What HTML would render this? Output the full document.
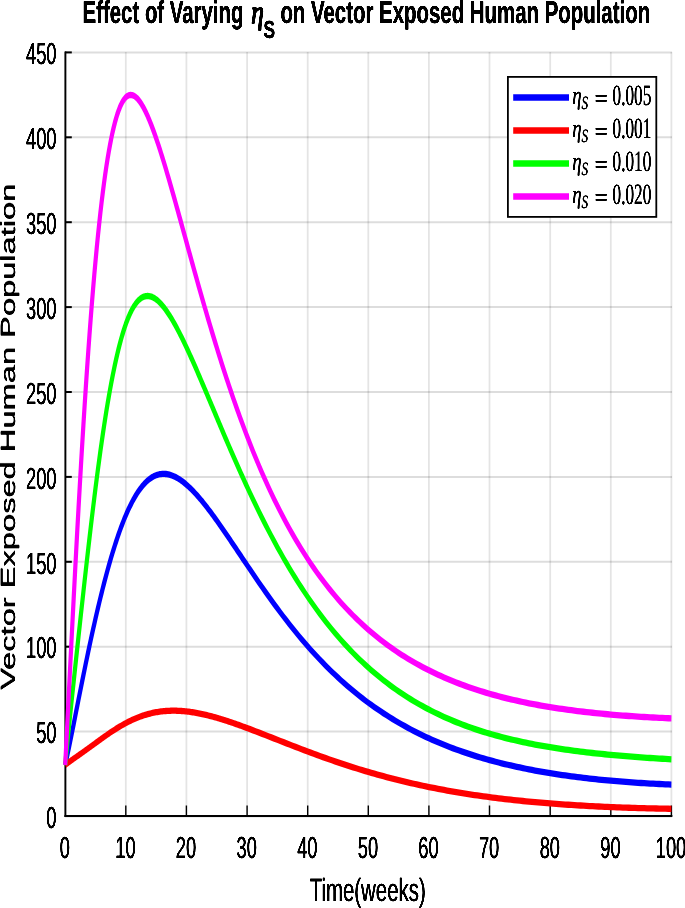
<!DOCTYPE html>
<html><head><meta charset="utf-8"><title>Effect of Varying eta_S on Vector Exposed Human Population</title>
<style>
html,body{margin:0;padding:0;background:#fff;}
body{width:685px;height:908px;overflow:hidden;position:relative;}
svg{position:absolute;left:0;top:0;display:block;}
text{font-family:"Liberation Sans",Arial,Helvetica,sans-serif;fill:#000;text-rendering:geometricPrecision;}
.serif{font-family:"Liberation Serif","DejaVu Serif",serif;}
</style></head><body>
<svg width="685" height="908" viewBox="0 0 685 908">
<defs>
<filter id="tk" x="-5%" y="-20%" width="110%" height="140%" color-interpolation-filters="sRGB"><feGaussianBlur stdDeviation="0.75 0.25"/><feComponentTransfer><feFuncA type="linear" slope="2.6" intercept="-0.12"/></feComponentTransfer></filter>
<filter id="tkv" x="-20%" y="-5%" width="140%" height="110%" color-interpolation-filters="sRGB"><feGaussianBlur stdDeviation="0.5 0.45"/><feComponentTransfer><feFuncA type="linear" slope="2.0" intercept="-0.08"/></feComponentTransfer></filter>
<filter id="tl" x="-5%" y="-20%" width="110%" height="140%" color-interpolation-filters="sRGB"><feGaussianBlur stdDeviation="0.55 0.3"/><feComponentTransfer><feFuncA type="linear" slope="2.2" intercept="-0.08"/></feComponentTransfer></filter>
</defs>
<rect x="0" y="0" width="685" height="908" fill="#fff"/>
<g stroke="#000" fill="none"><line x1="65.2" y1="52" x2="65.2" y2="816" stroke-width="1.8" stroke-opacity="0.105"/><line x1="125.8" y1="52" x2="125.8" y2="816" stroke-width="1.8" stroke-opacity="0.105"/><line x1="186.4" y1="52" x2="186.4" y2="816" stroke-width="1.8" stroke-opacity="0.105"/><line x1="247.1" y1="52" x2="247.1" y2="816" stroke-width="1.8" stroke-opacity="0.105"/><line x1="307.7" y1="52" x2="307.7" y2="816" stroke-width="1.8" stroke-opacity="0.105"/><line x1="368.3" y1="52" x2="368.3" y2="816" stroke-width="1.8" stroke-opacity="0.105"/><line x1="428.9" y1="52" x2="428.9" y2="816" stroke-width="1.8" stroke-opacity="0.105"/><line x1="489.5" y1="52" x2="489.5" y2="816" stroke-width="1.8" stroke-opacity="0.105"/><line x1="550.2" y1="52" x2="550.2" y2="816" stroke-width="1.8" stroke-opacity="0.105"/><line x1="610.8" y1="52" x2="610.8" y2="816" stroke-width="1.8" stroke-opacity="0.105"/><line x1="671.4" y1="52" x2="671.4" y2="816" stroke-width="1.8" stroke-opacity="0.105"/><line x1="65" y1="816.5" x2="672" y2="816.5" stroke-width="2" stroke-opacity="0.135"/><line x1="65" y1="731.6" x2="672" y2="731.6" stroke-width="2" stroke-opacity="0.135"/><line x1="65" y1="646.7" x2="672" y2="646.7" stroke-width="2" stroke-opacity="0.135"/><line x1="65" y1="561.8" x2="672" y2="561.8" stroke-width="2" stroke-opacity="0.135"/><line x1="65" y1="476.9" x2="672" y2="476.9" stroke-width="2" stroke-opacity="0.135"/><line x1="65" y1="392.0" x2="672" y2="392.0" stroke-width="2" stroke-opacity="0.135"/><line x1="65" y1="307.1" x2="672" y2="307.1" stroke-width="2" stroke-opacity="0.135"/><line x1="65" y1="222.2" x2="672" y2="222.2" stroke-width="2" stroke-opacity="0.135"/><line x1="65" y1="137.3" x2="672" y2="137.3" stroke-width="2" stroke-opacity="0.135"/><line x1="65" y1="52.4" x2="672" y2="52.4" stroke-width="2" stroke-opacity="0.135"/></g>
<g stroke="#000" fill="none"><line x1="65.4" y1="51.5" x2="65.4" y2="817" stroke-width="1.9"/><line x1="64.4" y1="816" x2="672.4" y2="816" stroke-width="2"/><line x1="125.8" y1="816" x2="125.8" y2="805.5" stroke-width="1.4"/><line x1="186.4" y1="816" x2="186.4" y2="805.5" stroke-width="1.4"/><line x1="247.1" y1="816" x2="247.1" y2="805.5" stroke-width="1.4"/><line x1="307.7" y1="816" x2="307.7" y2="805.5" stroke-width="1.4"/><line x1="368.3" y1="816" x2="368.3" y2="805.5" stroke-width="1.4"/><line x1="428.9" y1="816" x2="428.9" y2="805.5" stroke-width="1.4"/><line x1="489.5" y1="816" x2="489.5" y2="805.5" stroke-width="1.4"/><line x1="550.2" y1="816" x2="550.2" y2="805.5" stroke-width="1.4"/><line x1="610.8" y1="816" x2="610.8" y2="805.5" stroke-width="1.4"/><line x1="671.4" y1="816" x2="671.4" y2="805.5" stroke-width="1.4"/><line x1="65" y1="731.6" x2="71.8" y2="731.6" stroke-width="2"/><line x1="65" y1="646.7" x2="71.8" y2="646.7" stroke-width="2"/><line x1="65" y1="561.8" x2="71.8" y2="561.8" stroke-width="2"/><line x1="65" y1="476.9" x2="71.8" y2="476.9" stroke-width="2"/><line x1="65" y1="392.0" x2="71.8" y2="392.0" stroke-width="2"/><line x1="65" y1="307.1" x2="71.8" y2="307.1" stroke-width="2"/><line x1="65" y1="222.2" x2="71.8" y2="222.2" stroke-width="2"/><line x1="65" y1="137.3" x2="71.8" y2="137.3" stroke-width="2"/><line x1="65" y1="52.4" x2="71.8" y2="52.4" stroke-width="2"/></g>
<g transform="scale(1,1.5)" fill="none" stroke-width="4.2" stroke-linejoin="round">
<path stroke="#0000ff" d="M65.20,510.04 L66.41,506.36 L67.62,502.58 L68.84,498.70 L70.05,494.76 L71.26,490.76 L72.47,486.72 L73.69,482.66 L74.90,478.57 L76.11,474.48 L77.32,470.39 L78.54,466.31 L79.75,462.24 L80.96,458.19 L82.17,454.17 L83.39,450.17 L84.60,446.20 L85.81,442.27 L87.02,438.38 L88.24,434.52 L89.45,430.71 L90.66,426.94 L91.87,423.22 L93.09,419.56 L94.30,415.94 L95.51,412.37 L96.72,408.86 L97.93,405.40 L99.15,402.00 L100.36,398.66 L101.57,395.38 L102.78,392.16 L104.00,389.00 L105.21,385.90 L106.42,382.87 L107.63,379.90 L108.85,377.00 L110.06,374.16 L111.27,371.39 L112.48,368.69 L113.70,366.06 L114.91,363.49 L116.12,361.00 L117.33,358.57 L118.55,356.21 L119.76,353.93 L120.97,351.71 L122.18,349.56 L123.40,347.49 L124.61,345.48 L125.82,343.55 L127.03,341.68 L128.24,339.89 L129.46,338.16 L130.67,336.51 L131.88,334.92 L133.09,333.41 L134.31,331.96 L135.52,330.58 L136.73,329.26 L137.94,328.02 L139.16,326.84 L140.37,325.72 L141.58,324.67 L142.79,323.69 L144.01,322.76 L145.22,321.90 L146.43,321.11 L147.64,320.37 L148.86,319.69 L150.07,319.08 L151.28,318.52 L152.49,318.02 L153.71,317.57 L154.92,317.18 L156.13,316.85 L157.34,316.56 L158.55,316.33 L159.77,316.16 L160.98,316.03 L162.19,315.95 L163.40,315.92 L164.62,315.94 L165.83,316.00 L167.04,316.11 L168.25,316.26 L169.47,316.46 L170.68,316.69 L171.89,316.97 L173.10,317.29 L174.32,317.64 L175.53,318.04 L176.74,318.47 L177.95,318.93 L179.17,319.43 L180.38,319.97 L181.59,320.53 L182.80,321.13 L184.02,321.76 L185.23,322.42 L186.44,323.11 L187.65,323.82 L188.86,324.56 L190.08,325.33 L191.29,326.12 L192.50,326.94 L193.71,327.78 L194.93,328.64 L196.14,329.52 L197.35,330.42 L198.56,331.35 L199.78,332.29 L200.99,333.25 L202.20,334.22 L203.41,335.22 L204.63,336.23 L205.84,337.25 L207.05,338.29 L208.26,339.34 L209.48,340.41 L210.69,341.48 L211.90,342.57 L213.11,343.67 L214.33,344.78 L215.54,345.90 L216.75,347.03 L217.96,348.17 L219.17,349.32 L220.39,350.47 L221.60,351.63 L222.81,352.80 L224.02,353.97 L225.24,355.15 L226.45,356.33 L227.66,357.51 L228.87,358.70 L230.09,359.90 L231.30,361.09 L232.51,362.29 L233.72,363.50 L234.94,364.70 L236.15,365.90 L237.36,367.11 L238.57,368.31 L239.79,369.52 L241.00,370.73 L242.21,371.93 L243.42,373.14 L244.64,374.34 L245.85,375.55 L247.06,376.75 L250.09,379.74 L253.12,382.72 L256.15,385.68 L259.18,388.62 L262.22,391.53 L265.25,394.42 L268.28,397.27 L271.31,400.09 L274.34,402.87 L277.37,405.62 L280.40,408.33 L283.43,411.00 L286.46,413.63 L289.49,416.21 L292.53,418.76 L295.56,421.26 L298.59,423.72 L301.62,426.13 L304.65,428.51 L307.68,430.83 L310.71,433.11 L313.74,435.35 L316.77,437.55 L319.80,439.70 L322.83,441.80 L325.87,443.87 L328.90,445.89 L331.93,447.86 L334.96,449.80 L337.99,451.69 L341.02,453.55 L344.05,455.36 L347.08,457.13 L350.11,458.86 L353.14,460.56 L356.18,462.21 L359.21,463.83 L362.24,465.41 L365.27,466.96 L368.30,468.47 L371.33,469.94 L374.36,471.38 L377.39,472.79 L380.42,474.16 L383.45,475.50 L386.49,476.81 L389.52,478.09 L392.55,479.34 L395.58,480.56 L398.61,481.75 L401.64,482.92 L404.67,484.05 L407.70,485.16 L410.73,486.24 L413.76,487.29 L416.80,488.32 L419.83,489.33 L422.86,490.31 L425.89,491.26 L428.92,492.20 L431.95,493.11 L434.98,493.99 L438.01,494.86 L441.04,495.71 L444.07,496.53 L447.11,497.34 L450.14,498.12 L453.17,498.89 L456.20,499.64 L459.23,500.36 L462.26,501.07 L465.29,501.77 L468.32,502.44 L471.35,503.10 L474.38,503.75 L477.42,504.37 L480.45,504.98 L483.48,505.58 L486.51,506.16 L489.54,506.73 L492.57,507.28 L495.60,507.82 L498.63,508.34 L501.66,508.85 L504.69,509.35 L507.73,509.84 L510.76,510.31 L513.79,510.77 L516.82,511.22 L519.85,511.66 L522.88,512.09 L525.91,512.50 L528.94,512.90 L531.97,513.30 L535.00,513.68 L538.04,514.05 L541.07,514.42 L544.10,514.77 L547.13,515.11 L550.16,515.45 L553.19,515.77 L556.22,516.09 L559.25,516.40 L562.28,516.70 L565.32,516.99 L568.35,517.27 L571.38,517.54 L574.41,517.81 L577.44,518.07 L580.47,518.32 L583.50,518.56 L586.53,518.80 L589.56,519.03 L592.59,519.25 L595.63,519.47 L598.66,519.68 L601.69,519.88 L604.72,520.08 L607.75,520.27 L610.78,520.45 L613.81,520.63 L616.84,520.80 L619.87,520.97 L622.90,521.13 L625.94,521.29 L628.97,521.44 L632.00,521.58 L635.03,521.72 L638.06,521.86 L641.09,521.99 L644.12,522.11 L647.15,522.23 L650.18,522.35 L653.21,522.46 L656.25,522.56 L659.28,522.67 L662.31,522.76 L665.34,522.86 L668.37,522.95 L671.40,523.03"/>
<path stroke="#ff0000" d="M65.20,510.04 L66.41,509.39 L67.62,508.76 L68.84,508.15 L70.05,507.55 L71.26,506.96 L72.47,506.39 L73.69,505.81 L74.90,505.24 L76.11,504.67 L77.32,504.10 L78.54,503.54 L79.75,502.97 L80.96,502.40 L82.17,501.82 L83.39,501.25 L84.60,500.67 L85.81,500.09 L87.02,499.51 L88.24,498.93 L89.45,498.34 L90.66,497.75 L91.87,497.16 L93.09,496.57 L94.30,495.98 L95.51,495.39 L96.72,494.80 L97.93,494.21 L99.15,493.62 L100.36,493.04 L101.57,492.46 L102.78,491.88 L104.00,491.30 L105.21,490.73 L106.42,490.16 L107.63,489.60 L108.85,489.04 L110.06,488.49 L111.27,487.95 L112.48,487.41 L113.70,486.88 L114.91,486.36 L116.12,485.85 L117.33,485.34 L118.55,484.85 L119.76,484.36 L120.97,483.88 L122.18,483.42 L123.40,482.96 L124.61,482.51 L125.82,482.07 L127.03,481.65 L128.24,481.23 L129.46,480.83 L130.67,480.43 L131.88,480.05 L133.09,479.68 L134.31,479.32 L135.52,478.97 L136.73,478.63 L137.94,478.31 L139.16,477.99 L140.37,477.69 L141.58,477.40 L142.79,477.12 L144.01,476.85 L145.22,476.60 L146.43,476.36 L147.64,476.12 L148.86,475.90 L150.07,475.69 L151.28,475.50 L152.49,475.31 L153.71,475.14 L154.92,474.97 L156.13,474.82 L157.34,474.68 L158.55,474.55 L159.77,474.43 L160.98,474.32 L162.19,474.22 L163.40,474.14 L164.62,474.06 L165.83,473.99 L167.04,473.94 L168.25,473.89 L169.47,473.85 L170.68,473.82 L171.89,473.81 L173.10,473.80 L174.32,473.80 L175.53,473.81 L176.74,473.83 L177.95,473.86 L179.17,473.89 L180.38,473.94 L181.59,473.99 L182.80,474.06 L184.02,474.13 L185.23,474.20 L186.44,474.29 L187.65,474.38 L188.86,474.48 L190.08,474.59 L191.29,474.71 L192.50,474.83 L193.71,474.96 L194.93,475.09 L196.14,475.24 L197.35,475.39 L198.56,475.54 L199.78,475.70 L200.99,475.87 L202.20,476.04 L203.41,476.22 L204.63,476.41 L205.84,476.60 L207.05,476.79 L208.26,476.99 L209.48,477.20 L210.69,477.41 L211.90,477.62 L213.11,477.84 L214.33,478.06 L215.54,478.29 L216.75,478.52 L217.96,478.76 L219.17,479.00 L220.39,479.24 L221.60,479.49 L222.81,479.74 L224.02,480.00 L225.24,480.26 L226.45,480.52 L227.66,480.78 L228.87,481.05 L230.09,481.32 L231.30,481.59 L232.51,481.87 L233.72,482.15 L234.94,482.43 L236.15,482.71 L237.36,483.00 L238.57,483.29 L239.79,483.58 L241.00,483.87 L242.21,484.16 L243.42,484.46 L244.64,484.76 L245.85,485.06 L247.06,485.36 L250.09,486.12 L253.12,486.88 L256.15,487.66 L259.18,488.44 L262.22,489.22 L265.25,490.01 L268.28,490.80 L271.31,491.60 L274.34,492.39 L277.37,493.19 L280.40,493.98 L283.43,494.77 L286.46,495.56 L289.49,496.35 L292.53,497.14 L295.56,497.92 L298.59,498.70 L301.62,499.47 L304.65,500.24 L307.68,501.00 L310.71,501.75 L313.74,502.50 L316.77,503.25 L319.80,503.98 L322.83,504.71 L325.87,505.43 L328.90,506.14 L331.93,506.85 L334.96,507.55 L337.99,508.23 L341.02,508.91 L344.05,509.59 L347.08,510.25 L350.11,510.90 L353.14,511.55 L356.18,512.18 L359.21,512.81 L362.24,513.43 L365.27,514.03 L368.30,514.63 L371.33,515.22 L374.36,515.80 L377.39,516.37 L380.42,516.93 L383.45,517.48 L386.49,518.03 L389.52,518.56 L392.55,519.08 L395.58,519.60 L398.61,520.11 L401.64,520.60 L404.67,521.09 L407.70,521.57 L410.73,522.04 L413.76,522.50 L416.80,522.95 L419.83,523.40 L422.86,523.83 L425.89,524.26 L428.92,524.68 L431.95,525.09 L434.98,525.49 L438.01,525.88 L441.04,526.27 L444.07,526.65 L447.11,527.01 L450.14,527.38 L453.17,527.73 L456.20,528.08 L459.23,528.42 L462.26,528.75 L465.29,529.07 L468.32,529.39 L471.35,529.70 L474.38,530.01 L477.42,530.30 L480.45,530.59 L483.48,530.87 L486.51,531.15 L489.54,531.42 L492.57,531.69 L495.60,531.94 L498.63,532.19 L501.66,532.44 L504.69,532.68 L507.73,532.91 L510.76,533.14 L513.79,533.36 L516.82,533.58 L519.85,533.79 L522.88,534.00 L525.91,534.20 L528.94,534.39 L531.97,534.58 L535.00,534.77 L538.04,534.95 L541.07,535.13 L544.10,535.30 L547.13,535.46 L550.16,535.63 L553.19,535.78 L556.22,535.94 L559.25,536.08 L562.28,536.23 L565.32,536.37 L568.35,536.51 L571.38,536.64 L574.41,536.77 L577.44,536.89 L580.47,537.01 L583.50,537.13 L586.53,537.24 L589.56,537.35 L592.59,537.46 L595.63,537.56 L598.66,537.66 L601.69,537.76 L604.72,537.85 L607.75,537.94 L610.78,538.03 L613.81,538.11 L616.84,538.19 L619.87,538.27 L622.90,538.35 L625.94,538.42 L628.97,538.49 L632.00,538.56 L635.03,538.62 L638.06,538.69 L641.09,538.75 L644.12,538.80 L647.15,538.86 L650.18,538.91 L653.21,538.96 L656.25,539.01 L659.28,539.06 L662.31,539.10 L665.34,539.14 L668.37,539.18 L671.40,539.22"/>
<path stroke="#00ff00" d="M65.20,510.04 L66.41,501.52 L67.62,493.27 L68.84,485.23 L70.05,477.34 L71.26,469.57 L72.47,461.89 L73.69,454.28 L74.90,446.71 L76.11,439.18 L77.32,431.69 L78.54,424.22 L79.75,416.78 L80.96,409.37 L82.17,402.00 L83.39,394.67 L84.60,387.39 L85.81,380.16 L87.02,373.00 L88.24,365.92 L89.45,358.91 L90.66,352.00 L91.87,345.19 L93.09,338.49 L94.30,331.91 L95.51,325.45 L96.72,319.12 L97.93,312.93 L99.15,306.88 L100.36,300.99 L101.57,295.24 L102.78,289.66 L104.00,284.24 L105.21,278.99 L106.42,273.90 L107.63,268.99 L108.85,264.25 L110.06,259.68 L111.27,255.29 L112.48,251.07 L113.70,247.03 L114.91,243.17 L116.12,239.48 L117.33,235.96 L118.55,232.61 L119.76,229.44 L120.97,226.43 L122.18,223.59 L123.40,220.92 L124.61,218.40 L125.82,216.05 L127.03,213.85 L128.24,211.81 L129.46,209.92 L130.67,208.17 L131.88,206.57 L133.09,205.11 L134.31,203.78 L135.52,202.60 L136.73,201.54 L137.94,200.61 L139.16,199.80 L140.37,199.11 L141.58,198.54 L142.79,198.08 L144.01,197.74 L145.22,197.50 L146.43,197.36 L147.64,197.32 L148.86,197.38 L150.07,197.53 L151.28,197.77 L152.49,198.10 L153.71,198.52 L154.92,199.01 L156.13,199.58 L157.34,200.22 L158.55,200.94 L159.77,201.73 L160.98,202.58 L162.19,203.49 L163.40,204.47 L164.62,205.51 L165.83,206.60 L167.04,207.74 L168.25,208.93 L169.47,210.18 L170.68,211.47 L171.89,212.80 L173.10,214.18 L174.32,215.59 L175.53,217.05 L176.74,218.54 L177.95,220.06 L179.17,221.62 L180.38,223.20 L181.59,224.82 L182.80,226.46 L184.02,228.13 L185.23,229.82 L186.44,231.54 L187.65,233.27 L188.86,235.03 L190.08,236.80 L191.29,238.59 L192.50,240.40 L193.71,242.22 L194.93,244.06 L196.14,245.90 L197.35,247.76 L198.56,249.63 L199.78,251.51 L200.99,253.39 L202.20,255.29 L203.41,257.19 L204.63,259.09 L205.84,261.00 L207.05,262.91 L208.26,264.83 L209.48,266.75 L210.69,268.67 L211.90,270.59 L213.11,272.51 L214.33,274.43 L215.54,276.35 L216.75,278.27 L217.96,280.19 L219.17,282.10 L220.39,284.01 L221.60,285.92 L222.81,287.82 L224.02,289.72 L225.24,291.62 L226.45,293.50 L227.66,295.39 L228.87,297.26 L230.09,299.13 L231.30,301.00 L232.51,302.85 L233.72,304.70 L234.94,306.54 L236.15,308.38 L237.36,310.20 L238.57,312.02 L239.79,313.83 L241.00,315.63 L242.21,317.42 L243.42,319.20 L244.64,320.97 L245.85,322.73 L247.06,324.48 L250.09,328.82 L253.12,333.09 L256.15,337.29 L259.18,341.43 L262.22,345.50 L265.25,349.49 L268.28,353.42 L271.31,357.27 L274.34,361.06 L277.37,364.76 L280.40,368.40 L283.43,371.97 L286.46,375.46 L289.49,378.88 L292.53,382.23 L295.56,385.50 L298.59,388.71 L301.62,391.85 L304.65,394.92 L307.68,397.92 L310.71,400.85 L313.74,403.71 L316.77,406.51 L319.80,409.25 L322.83,411.92 L325.87,414.53 L328.90,417.07 L331.93,419.56 L334.96,421.98 L337.99,424.35 L341.02,426.66 L344.05,428.91 L347.08,431.10 L350.11,433.24 L353.14,435.33 L356.18,437.37 L359.21,439.35 L362.24,441.28 L365.27,443.16 L368.30,445.00 L371.33,446.79 L374.36,448.53 L377.39,450.22 L380.42,451.88 L383.45,453.48 L386.49,455.05 L389.52,456.57 L392.55,458.06 L395.58,459.50 L398.61,460.91 L401.64,462.28 L404.67,463.61 L407.70,464.90 L410.73,466.16 L413.76,467.39 L416.80,468.58 L419.83,469.74 L422.86,470.87 L425.89,471.96 L428.92,473.03 L431.95,474.07 L434.98,475.08 L438.01,476.06 L441.04,477.01 L444.07,477.94 L447.11,478.84 L450.14,479.72 L453.17,480.57 L456.20,481.40 L459.23,482.20 L462.26,482.98 L465.29,483.74 L468.32,484.48 L471.35,485.20 L474.38,485.89 L477.42,486.57 L480.45,487.23 L483.48,487.87 L486.51,488.49 L489.54,489.09 L492.57,489.68 L495.60,490.25 L498.63,490.80 L501.66,491.34 L504.69,491.86 L507.73,492.37 L510.76,492.87 L513.79,493.34 L516.82,493.81 L519.85,494.26 L522.88,494.70 L525.91,495.13 L528.94,495.54 L531.97,495.95 L535.00,496.34 L538.04,496.72 L541.07,497.09 L544.10,497.44 L547.13,497.79 L550.16,498.13 L553.19,498.46 L556.22,498.78 L559.25,499.09 L562.28,499.39 L565.32,499.69 L568.35,499.97 L571.38,500.25 L574.41,500.52 L577.44,500.78 L580.47,501.04 L583.50,501.28 L586.53,501.52 L589.56,501.76 L592.59,501.99 L595.63,502.21 L598.66,502.42 L601.69,502.63 L604.72,502.84 L607.75,503.04 L610.78,503.23 L613.81,503.42 L616.84,503.60 L619.87,503.78 L622.90,503.95 L625.94,504.12 L628.97,504.28 L632.00,504.44 L635.03,504.60 L638.06,504.75 L641.09,504.90 L644.12,505.05 L647.15,505.19 L650.18,505.32 L653.21,505.46 L656.25,505.59 L659.28,505.72 L662.31,505.84 L665.34,505.96 L668.37,506.08 L671.40,506.20"/>
<path stroke="#ff00ff" d="M65.20,510.04 L66.41,494.21 L67.62,478.26 L68.84,462.25 L70.05,446.24 L71.26,430.31 L72.47,414.48 L73.69,398.82 L74.90,383.37 L76.11,368.16 L77.32,353.22 L78.54,338.58 L79.75,324.27 L80.96,310.31 L82.17,296.72 L83.39,283.50 L84.60,270.68 L85.81,258.27 L87.02,246.26 L88.24,234.68 L89.45,223.51 L90.66,212.78 L91.87,202.46 L93.09,192.58 L94.30,183.11 L95.51,174.07 L96.72,165.45 L97.93,157.23 L99.15,149.43 L100.36,142.03 L101.57,135.02 L102.78,128.40 L104.00,122.16 L105.21,116.29 L106.42,110.79 L107.63,105.64 L108.85,100.84 L110.06,96.38 L111.27,92.24 L112.48,88.43 L113.70,84.92 L114.91,81.71 L116.12,78.80 L117.33,76.17 L118.55,73.81 L119.76,71.72 L120.97,69.88 L122.18,68.28 L123.40,66.93 L124.61,65.80 L125.82,64.89 L127.03,64.19 L128.24,63.70 L129.46,63.40 L130.67,63.29 L131.88,63.36 L133.09,63.60 L134.31,64.00 L135.52,64.56 L136.73,65.28 L137.94,66.13 L139.16,67.13 L140.37,68.25 L141.58,69.50 L142.79,70.86 L144.01,72.34 L145.22,73.93 L146.43,75.62 L147.64,77.40 L148.86,79.27 L150.07,81.23 L151.28,83.27 L152.49,85.39 L153.71,87.58 L154.92,89.84 L156.13,92.16 L157.34,94.54 L158.55,96.97 L159.77,99.46 L160.98,101.99 L162.19,104.57 L163.40,107.20 L164.62,109.86 L165.83,112.55 L167.04,115.28 L168.25,118.04 L169.47,120.82 L170.68,123.63 L171.89,126.46 L173.10,129.31 L174.32,132.18 L175.53,135.07 L176.74,137.96 L177.95,140.87 L179.17,143.79 L180.38,146.71 L181.59,149.64 L182.80,152.57 L184.02,155.51 L185.23,158.45 L186.44,161.38 L187.65,164.32 L188.86,167.25 L190.08,170.18 L191.29,173.10 L192.50,176.01 L193.71,178.92 L194.93,181.82 L196.14,184.71 L197.35,187.59 L198.56,190.46 L199.78,193.31 L200.99,196.16 L202.20,198.99 L203.41,201.80 L204.63,204.60 L205.84,207.39 L207.05,210.16 L208.26,212.92 L209.48,215.65 L210.69,218.37 L211.90,221.07 L213.11,223.76 L214.33,226.43 L215.54,229.07 L216.75,231.70 L217.96,234.31 L219.17,236.90 L220.39,239.47 L221.60,242.02 L222.81,244.55 L224.02,247.06 L225.24,249.55 L226.45,252.02 L227.66,254.46 L228.87,256.89 L230.09,259.30 L231.30,261.68 L232.51,264.05 L233.72,266.39 L234.94,268.71 L236.15,271.01 L237.36,273.29 L238.57,275.55 L239.79,277.79 L241.00,280.01 L242.21,282.20 L243.42,284.38 L244.64,286.53 L245.85,288.66 L247.06,290.78 L250.09,295.97 L253.12,301.03 L256.15,305.97 L259.18,310.78 L262.22,315.47 L265.25,320.04 L268.28,324.48 L271.31,328.82 L274.34,333.04 L277.37,337.14 L280.40,341.14 L283.43,345.03 L286.46,348.82 L289.49,352.50 L292.53,356.09 L295.56,359.57 L298.59,362.97 L301.62,366.27 L304.65,369.47 L307.68,372.60 L310.71,375.63 L313.74,378.58 L316.77,381.46 L319.80,384.25 L322.83,386.96 L325.87,389.61 L328.90,392.17 L331.93,394.67 L334.96,397.10 L337.99,399.46 L341.02,401.76 L344.05,403.99 L347.08,406.17 L350.11,408.28 L353.14,410.33 L356.18,412.33 L359.21,414.28 L362.24,416.17 L365.27,418.00 L368.30,419.79 L371.33,421.53 L374.36,423.22 L377.39,424.87 L380.42,426.47 L383.45,428.02 L386.49,429.54 L389.52,431.01 L392.55,432.44 L395.58,433.84 L398.61,435.19 L401.64,436.51 L404.67,437.79 L407.70,439.04 L410.73,440.26 L413.76,441.44 L416.80,442.59 L419.83,443.70 L422.86,444.79 L425.89,445.85 L428.92,446.88 L431.95,447.88 L434.98,448.85 L438.01,449.80 L441.04,450.72 L444.07,451.62 L447.11,452.49 L450.14,453.34 L453.17,454.16 L456.20,454.97 L459.23,455.75 L462.26,456.51 L465.29,457.25 L468.32,457.97 L471.35,458.67 L474.38,459.35 L477.42,460.01 L480.45,460.65 L483.48,461.28 L486.51,461.89 L489.54,462.48 L492.57,463.05 L495.60,463.61 L498.63,464.16 L501.66,464.69 L504.69,465.20 L507.73,465.70 L510.76,466.19 L513.79,466.66 L516.82,467.12 L519.85,467.57 L522.88,468.00 L525.91,468.43 L528.94,468.84 L531.97,469.23 L535.00,469.62 L538.04,470.00 L541.07,470.36 L544.10,470.72 L547.13,471.06 L550.16,471.40 L553.19,471.72 L556.22,472.04 L559.25,472.35 L562.28,472.64 L565.32,472.93 L568.35,473.21 L571.38,473.49 L574.41,473.75 L577.44,474.01 L580.47,474.25 L583.50,474.49 L586.53,474.73 L589.56,474.95 L592.59,475.17 L595.63,475.39 L598.66,475.59 L601.69,475.79 L604.72,475.99 L607.75,476.17 L610.78,476.35 L613.81,476.53 L616.84,476.70 L619.87,476.86 L622.90,477.02 L625.94,477.17 L628.97,477.32 L632.00,477.47 L635.03,477.60 L638.06,477.74 L641.09,477.87 L644.12,477.99 L647.15,478.11 L650.18,478.23 L653.21,478.34 L656.25,478.45 L659.28,478.55 L662.31,478.65 L665.34,478.74 L668.37,478.84 L671.40,478.93"/>
</g>
<g filter="url(#tk)"><text transform="translate(64.8,858.3) scale(0.63,1.05)" font-size="29.0" text-anchor="middle">0</text><text transform="translate(125.4,858.3) scale(0.63,1.05)" font-size="29.0" text-anchor="middle">10</text><text transform="translate(186.0,858.3) scale(0.63,1.05)" font-size="29.0" text-anchor="middle">20</text><text transform="translate(246.7,858.3) scale(0.63,1.05)" font-size="29.0" text-anchor="middle">30</text><text transform="translate(307.3,858.3) scale(0.63,1.05)" font-size="29.0" text-anchor="middle">40</text><text transform="translate(367.9,858.3) scale(0.63,1.05)" font-size="29.0" text-anchor="middle">50</text><text transform="translate(428.5,858.3) scale(0.63,1.05)" font-size="29.0" text-anchor="middle">60</text><text transform="translate(489.1,858.3) scale(0.63,1.05)" font-size="29.0" text-anchor="middle">70</text><text transform="translate(549.8,858.3) scale(0.63,1.05)" font-size="29.0" text-anchor="middle">80</text><text transform="translate(610.4,858.3) scale(0.63,1.05)" font-size="29.0" text-anchor="middle">90</text><text transform="translate(671.0,858.3) scale(0.63,1.05)" font-size="29.0" text-anchor="middle">100</text><text transform="translate(56.5,828.2) scale(0.63,1.05)" font-size="29.0" text-anchor="end">0</text><text transform="translate(56.5,743.3) scale(0.63,1.05)" font-size="29.0" text-anchor="end">50</text><text transform="translate(56.5,658.4) scale(0.63,1.05)" font-size="29.0" text-anchor="end">100</text><text transform="translate(56.5,573.5) scale(0.63,1.05)" font-size="29.0" text-anchor="end">150</text><text transform="translate(56.5,488.6) scale(0.63,1.05)" font-size="29.0" text-anchor="end">200</text><text transform="translate(56.5,403.7) scale(0.63,1.05)" font-size="29.0" text-anchor="end">250</text><text transform="translate(56.5,318.8) scale(0.63,1.05)" font-size="29.0" text-anchor="end">300</text><text transform="translate(56.5,233.9) scale(0.63,1.05)" font-size="29.0" text-anchor="end">350</text><text transform="translate(56.5,149.0) scale(0.63,1.05)" font-size="29.0" text-anchor="end">400</text><text transform="translate(56.5,64.1) scale(0.63,1.05)" font-size="29.0" text-anchor="end">450</text></g>
<text filter="url(#tk)" transform="translate(367.7,901.4) scale(0.634,1)" font-size="32.2" text-anchor="middle">Time(weeks)</text>
<text filter="url(#tkv)" transform="translate(15,436.7) rotate(-90) scale(1,0.63)" font-size="32.65" text-anchor="middle">Vector Exposed Human Population</text>
<g font-weight="bold" font-size="31.5" filter="url(#tk)"><text transform="translate(82.6,23) scale(0.647,1)">Effect of Varying</text><text class="serif" transform="translate(251.3,23.4) scale(0.78,1)" font-style="italic" font-weight="normal" stroke="#000" stroke-width="0.9" font-size="32.5">η</text><text transform="translate(263.6,38) scale(0.70,1)" font-size="24.8">S</text><text transform="translate(280.4,23) scale(0.648,1)">on Vector Exposed Human Population</text></g>
<rect x="507.9" y="76.9" width="148.4" height="140" fill="#fff" stroke="#000" stroke-width="1.8"/>
<line x1="513.2" y1="97.5" x2="569" y2="97.5" stroke="#0000ff" stroke-width="6.4"/><g class="serif" filter="url(#tl)"><text class="serif" transform="translate(572.3,104.2) scale(0.72,1)" font-style="italic" font-size="26">η</text><text class="serif" transform="translate(581.6,109.4) scale(0.70,1)" font-style="italic" font-size="18.8">S</text><text class="serif" transform="translate(594.4,107.4) scale(0.92,1)" font-size="26">=</text><text class="serif" transform="translate(612.6,105.3) scale(0.582,1)" font-size="29.5">0.005</text></g>
<line x1="513.2" y1="130.5" x2="569" y2="130.5" stroke="#ff0000" stroke-width="6.4"/><g class="serif" filter="url(#tl)"><text class="serif" transform="translate(572.3,137.2) scale(0.72,1)" font-style="italic" font-size="26">η</text><text class="serif" transform="translate(581.6,142.39999999999998) scale(0.70,1)" font-style="italic" font-size="18.8">S</text><text class="serif" transform="translate(594.4,140.39999999999998) scale(0.92,1)" font-size="26">=</text><text class="serif" transform="translate(612.6,138.29999999999998) scale(0.582,1)" font-size="29.5">0.001</text></g>
<line x1="513.2" y1="163.5" x2="569" y2="163.5" stroke="#00ff00" stroke-width="6.4"/><g class="serif" filter="url(#tl)"><text class="serif" transform="translate(572.3,170.2) scale(0.72,1)" font-style="italic" font-size="26">η</text><text class="serif" transform="translate(581.6,175.39999999999998) scale(0.70,1)" font-style="italic" font-size="18.8">S</text><text class="serif" transform="translate(594.4,173.39999999999998) scale(0.92,1)" font-size="26">=</text><text class="serif" transform="translate(612.6,171.29999999999998) scale(0.582,1)" font-size="29.5">0.010</text></g>
<line x1="513.2" y1="196.5" x2="569" y2="196.5" stroke="#ff00ff" stroke-width="6.4"/><g class="serif" filter="url(#tl)"><text class="serif" transform="translate(572.3,203.2) scale(0.72,1)" font-style="italic" font-size="26">η</text><text class="serif" transform="translate(581.6,208.39999999999998) scale(0.70,1)" font-style="italic" font-size="18.8">S</text><text class="serif" transform="translate(594.4,206.39999999999998) scale(0.92,1)" font-size="26">=</text><text class="serif" transform="translate(612.6,204.29999999999998) scale(0.582,1)" font-size="29.5">0.020</text></g>
</svg></body></html>
